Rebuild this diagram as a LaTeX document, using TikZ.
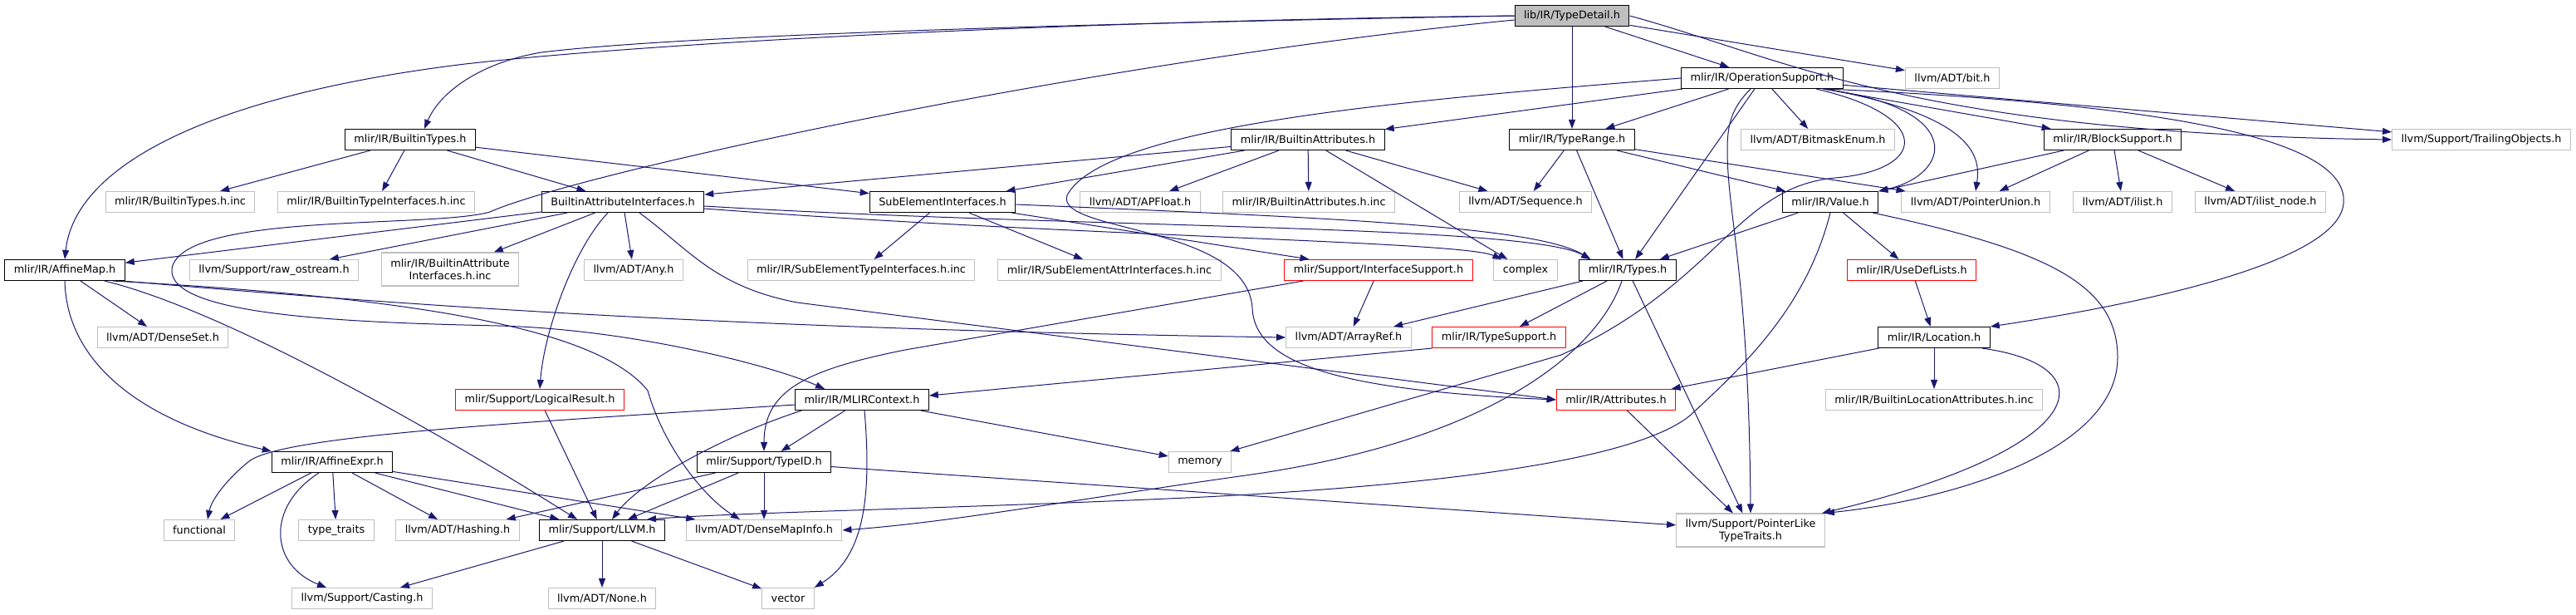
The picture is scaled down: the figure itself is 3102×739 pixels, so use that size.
\documentclass[tikz,border=0pt]{standalone}
\usepackage{fontspec}
\newfontfamily\dejavu{DejaVu Sans}
\usetikzlibrary{arrows.meta}
\definecolor{grey75}{HTML}{BFBFBF}
\definecolor{midnight}{HTML}{191970}

\begin{document}
\begin{tikzpicture}[x=1pt, y=-1pt, >={Triangle[length=11pt,width=8pt]},
  hdr/.style={draw=black, fill=white, line width=1.1pt, minimum height=25pt,
    inner xsep=11pt, inner ysep=1pt, align=center,
    font=\dejavu\fontsize{12.8pt}{15pt}\selectfont},
  sys/.style={hdr, draw=grey75},
  trunc/.style={hdr, draw=red},
  root/.style={hdr, fill=grey75},
  dep/.style={->, color=midnight, line width=1pt}]
  % Canvas
  \fill[white] (0,0) rectangle (3102,739);
  % Row 0 and 1
  \node[root] (TD) at (1893,19) {lib/IR/TypeDetail.h};
  \node[hdr] (OS) at (2122,94) {mlir/IR/OperationSupport.h};
  \node[sys] (bit) at (2351,94) {llvm/ADT/bit.h};
  % Row 2
  \node[hdr] (BT) at (494,168) {mlir/IR/BuiltinTypes.h};
  \node[hdr] (BA) at (1575,168) {mlir/IR/BuiltinAttributes.h};
  \node[hdr] (TR) at (1893,168) {mlir/IR/TypeRange.h};
  \node[sys] (BE) at (2189,168) {llvm/ADT/BitmaskEnum.h};
  \node[hdr] (BS) at (2544,168) {mlir/IR/BlockSupport.h};
  \node[sys] (TO) at (2988,168) {llvm/Support/TrailingObjects.h};
  % Row 3
  \node[sys] (BTinc) at (217,243) {mlir/IR/BuiltinTypes.h.inc};
  \node[sys] (BTIinc) at (453,243) {mlir/IR/BuiltinTypeInterfaces.h.inc};
  \node[hdr] (BAI) at (750,243) {BuiltinAttributeInterfaces.h};
  \node[hdr] (SEI) at (1135,243) {SubElementInterfaces.h};
  \node[sys] (APF) at (1373,243) {llvm/ADT/APFloat.h};
  \node[sys] (BAinc) at (1576,243) {mlir/IR/BuiltinAttributes.h.inc};
  \node[sys] (Seq) at (1837,243) {llvm/ADT/Sequence.h};
  \node[hdr] (Val) at (2204,243) {mlir/IR/Value.h};
  \node[sys] (PU) at (2379,243) {llvm/ADT/PointerUnion.h};
  \node[sys] (il) at (2556,243) {llvm/ADT/ilist.h};
  \node[sys] (iln) at (2722,243) {llvm/ADT/ilist\_node.h};
  % Row 4
  \node[hdr] (AM) at (78,325) {mlir/IR/AffineMap.h};
  \node[sys] (ros) at (330,325) {llvm/Support/raw\_ostream.h};
  \node[sys, minimum height=40pt] (BAIinc) at (542,324) {mlir/IR/BuiltinAttribute\\Interfaces.h.inc};
  \node[sys] (Any) at (763,325) {llvm/ADT/Any.h};
  \node[sys] (SETinc) at (1037,325) {mlir/IR/SubElementTypeInterfaces.h.inc};
  \node[sys] (SEAinc) at (1336,325) {mlir/IR/SubElementAttrInterfaces.h.inc};
  \node[trunc] (IS) at (1660,325) {mlir/Support/InterfaceSupport.h};
  \node[sys] (cx) at (1837,325) {complex};
  \node[hdr] (Ty) at (1960,325) {mlir/IR/Types.h};
  \node[trunc] (UDL) at (2302,325) {mlir/IR/UseDefLists.h};
  % Row 5
  \node[sys] (DS) at (196,406) {llvm/ADT/DenseSet.h};
  \node[sys] (AR) at (1624,406) {llvm/ADT/ArrayRef.h};
  \node[trunc] (TS) at (1805,406) {mlir/IR/TypeSupport.h};
  \node[hdr] (Loc) at (2329,406) {mlir/IR/Location.h};
  % Row 6
  \node[trunc] (LR) at (650,481) {mlir/Support/LogicalResult.h};
  \node[hdr] (Ctx) at (1038,481) {mlir/IR/MLIRContext.h};
  \node[trunc] (Attr) at (1946,481) {mlir/IR/Attributes.h};
  \node[sys] (BLAinc) at (2329,481) {mlir/IR/BuiltinLocationAttributes.h.inc};
  % Row 7
  \node[hdr] (AE) at (400,556) {mlir/IR/AffineExpr.h};
  \node[hdr] (TID) at (920,556) {mlir/Support/TypeID.h};
  \node[sys] (mem) at (1445,556) {memory};
  % Row 8
  \node[sys] (fn) at (240,638) {functional};
  \node[sys] (tt) at (405,638) {type\_traits};
  \node[sys] (Hash) at (551,638) {llvm/ADT/Hashing.h};
  \node[hdr] (LLVM) at (725,638) {mlir/Support/LLVM.h};
  \node[sys] (DMI) at (920,638) {llvm/ADT/DenseMapInfo.h};
  \node[sys, minimum height=40pt] (PLT) at (2108,638) {llvm/Support/PointerLike\\TypeTraits.h};
  % Row 9
  \node[sys] (Cast) at (436,720) {llvm/Support/Casting.h};
  \node[sys] (None) at (725,720) {llvm/ADT/None.h};
  \node[sys] (vec) at (949,720) {vector};
  % Straight includes
  \foreach \a/\b in {TD/TR, TD/OS, TD/bit, OS/BA, OS/TR, OS/Ty, OS/BE, OS/BS, OS/TO,
      BT/BTinc, BT/BTIinc, BT/BAI, BT/SEI, BA/BAI, BA/SEI, BA/APF, BA/BAinc, BA/Seq, BA/cx,
      TR/Seq, TR/Ty, TR/Val, TR/PU, BS/Val, BS/PU, BS/il, BS/iln,
      BAI/AM, BAI/ros, BAI/BAIinc, BAI/Any, SEI/SETinc, SEI/SEAinc, SEI/IS,
      Val/Ty, Val/UDL, UDL/Loc, Loc/Attr, Loc/BLAinc, Ty/AR, Ty/TS, Ty/PLT, IS/AR,
      Ctx/TID, Ctx/mem, Attr/PLT, LR/LLVM, AM/DS,
      AE/fn, AE/tt, AE/Hash, AE/LLVM, AE/DMI, TID/Hash, TID/LLVM, TID/DMI, TID/PLT,
      LLVM/Cast, LLVM/None, LLVM/vec}
    \draw[dep] (\a) -- (\b);
  \draw[dep] (TS.south west) -- ([yshift=5pt]Ctx.east);
  % Curved includes from TypeDetail.h
  \draw[dep] (TD.west) .. controls (1300,25) and (800,50) .. (560,77)
    .. controls (250,115) and (90,200) .. (AM.north);
  \draw[dep] (TD.west) .. controls (1200,30) and (800,45) .. (652,63)
    .. controls (580,75) and (530,110) .. ([xshift=17pt]BT.north);
  \draw[dep] ([yshift=-5pt]TD.west) .. controls (1300,75) and (690,210) .. (590,255)
    .. controls (520,275) and (220,255) .. (207,323)
    .. controls (200,380) and (420,388) .. (600,392)
    .. controls (760,396) and (930,440) .. ([xshift=-45pt]Ctx.north);
  \draw[dep] (TD.east) .. controls (2150,70) and (2300,160) .. (TO.west);
  % Curved includes from OperationSupport.h
  \draw[dep] ([xshift=-25pt]OS.south east) .. controls (2370,130) and (2350,210) .. (Val.north east);
  \draw[dep] ([xshift=-22pt]OS.south east) .. controls (2380,140) and (2385,190) .. (PU.north);
  \draw[dep] ([xshift=-14pt]OS.south) .. controls (2085,130) and (2080,150) .. (2080,180)
    .. controls (2080,260) and (2106,330) .. (PLT.north);
  \draw[dep] ([xshift=-20pt]OS.south east) .. controls (2600,125) and (2830,165) .. (2822,245)
    .. controls (2815,320) and (2550,370) .. (Loc.north east);
  \draw[dep] ([xshift=65pt]OS.south) .. controls (2330,140) and (2320,205) .. (2210,214)
    .. controls (2090,225) and (2070,340) .. (1880,427) -- ([xshift=-2pt]mem.north east);
  \draw[dep] (OS.west) .. controls (1700,120) and (1330,150) .. (1285,235)
    .. controls (1270,280) and (1500,270) .. (1508,370)
    .. controls (1510,440) and (1620,470) .. (Attr.west);
  % Curved includes from the interface headers
  \draw[dep] ([xshift=-18pt]BAI.south) .. controls (690,300) and (655,400) .. (LR.north);
  \draw[dep] ([xshift=20pt]BAI.south) .. controls (830,300) and (860,345) .. (960,364) -- (Attr.west);
  \draw[dep] ([yshift=-5pt]BAI.east) .. controls (1300,275) and (1840,270) .. ([xshift=14pt]Ty.north west);
  \draw[dep] ([yshift=-8pt]BAI.east) .. controls (1300,285) and (1760,290) .. ([xshift=10pt]cx.north west);
  \draw[dep] ([yshift=-3pt]SEI.east) .. controls (1600,262) and (1850,272) .. ([xshift=14pt]Ty.north west);
  \draw[dep] ([xshift=23pt]IS.south west) -- (1090,421) .. controls (970,445) and (920,470) .. (TID.north);
  % Curved includes from Value.h, Location.h and Types.h
  \draw[dep] (Val.south) .. controls (2175,370) and (2100,440) .. (2035,500)
    .. controls (1980,545) and (1800,580) .. (1450,598)
    .. controls (1150,612) and (900,616) .. ([xshift=-22pt]LLVM.north east);
  \draw[dep] ([xshift=-7pt]Val.south east) .. controls (2460,300) and (2550,340) .. (2550,430)
    .. controls (2550,540) and (2360,600) .. (PLT.north east);
  \draw[dep] ([xshift=-10pt]Loc.south east) .. controls (2540,440) and (2520,540) .. ([xshift=-4pt]PLT.north east);
  \draw[dep] ([xshift=-7pt]Ty.south) .. controls (1925,420) and (1800,530) .. (1500,572)
    .. controls (1300,600) and (1150,628) .. (DMI.east);
  % Curved includes from MLIRContext.h, AffineMap.h and AffineExpr.h
  \draw[dep] ([yshift=-6pt]Ctx.west) .. controls (600,510) and (340,525) .. (300,555)
    .. controls (275,575) and (255,600) .. ([xshift=10pt]fn.north);
  \draw[dep] ([xshift=8pt]Ctx.south west) .. controls (870,525) and (770,580) .. ([xshift=12pt]LLVM.north);
  \draw[dep] ([xshift=3pt]Ctx.south) .. controls (1050,600) and (1040,670) .. (vec.north east);
  \draw[dep] (AM.south) .. controls (80,430) and (160,505) .. (AE.north west);
  \draw[dep] ([xshift=-25pt]AM.south east) .. controls (280,375) and (560,540) .. ([xshift=-30pt]LLVM.north);
  \draw[dep] ([xshift=-3pt]AM.south east) .. controls (520,370) and (900,396) .. (AR.west);
  \draw[dep] ([xshift=-15pt]AM.south east) .. controls (500,358) and (720,395) .. (780,470)
    .. controls (800,540) and (850,600) .. ([xshift=-29pt]DMI.north);
  \draw[dep] ([xshift=-16pt]AE.south) .. controls (320,610) and (325,680) .. ([xshift=-43pt]Cast.north);
\end{tikzpicture}
\end{document}
